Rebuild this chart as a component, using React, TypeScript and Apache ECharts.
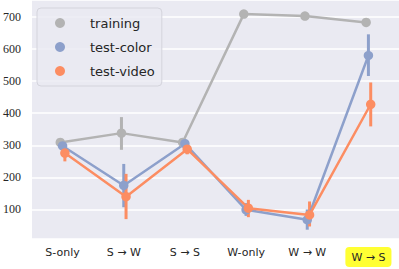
import React, { useEffect, useRef } from "react";
import * as echarts from "echarts";

const categories = ["S-only", "S → W", "S → S", "W-only", "W → W", "W → S"];
const seriesNames = ["training", "test-color", "test-video"];
const colors = ["#b3b3b3", "#8da0cb", "#fc8d62"];

const trainingMean = [309, 338, 309, 709, 703, 683];
const trainingLow = [300, 286, 300, 700, 697, 673];
const trainingHigh = [318, 388, 318, 716, 709, 693];

const colorMean = [298, 175, 305, 99, 68, 580];
const colorLow = [285, 107, 290, 80, 37, 516];
const colorHigh = [310, 242, 318, 120, 100, 646];

const videoMean = [276, 140, 288, 104, 83, 428];
const videoLow = [250, 70, 272, 76, 47, 359];
const videoHigh = [291, 211, 301, 130, 125, 496];

const dodge = [-0.0375, 0, 0.0375];

export default function App() {
  const ref = useRef<HTMLDivElement>(null);
  useEffect(() => {
    if (!ref.current) return;
    const chart = echarts.init(ref.current, null, { renderer: "svg" });
    const groups = [
      [trainingMean, trainingLow, trainingHigh],
      [colorMean, colorLow, colorHigh],
      [videoMean, videoLow, videoHigh],
    ];
    const series: any[] = [];
    groups.forEach((g, k) => {
      const [mean, lo, hi] = g;
      const col = colors[k];
      series.push({
        name: seriesNames[k] + "-err",
        type: "custom",
        xAxisIndex: 1,
        yAxisIndex: 0,
        data: mean.map((_, i) => [i + dodge[k], lo[i], hi[i]]),
        encode: { x: 0, y: [1, 2] },
        renderItem: (params: any, api: any) => {
          const x = api.value(0);
          const p1 = api.coord([x, api.value(1)]);
          const p2 = api.coord([x, api.value(2)]);
          return {
            type: "line",
            shape: { x1: p1[0], y1: p1[1], x2: p2[0], y2: p2[1] },
            style: { stroke: col, lineWidth: 3 },
          };
        },
        silent: true,
      });
      series.push({
        name: seriesNames[k],
        type: "line",
        xAxisIndex: 1,
        yAxisIndex: 0,
        data: mean.map((v, i) => [i + dodge[k], v]),
        symbol: "circle",
        symbolSize: 9.5,
        showSymbol: true,
        itemStyle: { color: col },
        lineStyle: { color: col, width: 2.5 },
      });
    });

    chart.setOption({
      animation: false,
      grid: {
        left: 29,
        right: 0,
        top: 0,
        bottom: 30,
        show: true,
        backgroundColor: "#eaeaf2",
        borderWidth: 0,
      },
      legend: {
        data: seriesNames,
        orient: "vertical",
        left: 37,
        top: 8,
        icon: "circle",
        itemWidth: 10,
        itemHeight: 10,
        itemGap: 8,
        padding: [7, 7, 7, 18],
        backgroundColor: "rgba(234,234,242,0.85)",
        borderColor: "#d4d4dc",
        borderWidth: 1,
        borderRadius: 4,
        textStyle: {
          fontFamily: "DejaVu Sans",
          fontSize: 13,
          color: "#262626",
          lineHeight: 16,
          padding: [0, 0, 0, 20],
        },
      },
      xAxis: [
        {
          type: "category",
          data: categories,
          boundaryGap: true,
          axisLine: { show: false },
          axisTick: { show: false },
          splitLine: { show: false },
          axisLabel: {
            margin: 8,
            fontFamily: "DejaVu Sans",
            fontSize: 11,
            color: "#262626",
            interval: 0,
            formatter: (v: string) => (v === "W → S" ? `{hl|${v}}` : v),
            rich: {
              hl: {
                backgroundColor: "#ffff33",
                borderRadius: 4,
                padding: [5, 6, 4, 6],
                fontFamily: "DejaVu Sans",
                fontSize: 11,
                color: "#262626",
              },
            },
          },
        },
        {
          type: "value",
          min: -0.5,
          max: 5.5,
          show: false,
          splitLine: { show: false },
        },
      ],
      yAxis: {
        type: "value",
        min: 8,
        max: 753,
        axisLine: { show: false },
        axisTick: { show: false },
        splitLine: { show: true, lineStyle: { color: "#ffffff", width: 1.5 } },
        axisLabel: {
          margin: 11,
          fontFamily: "Liberation Serif",
          fontSize: 12,
          color: "#262626",
          showMinLabel: false,
          showMaxLabel: false,
        },
      },
      series,
    });
    return () => chart.dispose();
  }, []);
  return <div ref={ref} style={{ width: 399, height: 269, position: "absolute", left: 0, top: 0 }} />;
}
